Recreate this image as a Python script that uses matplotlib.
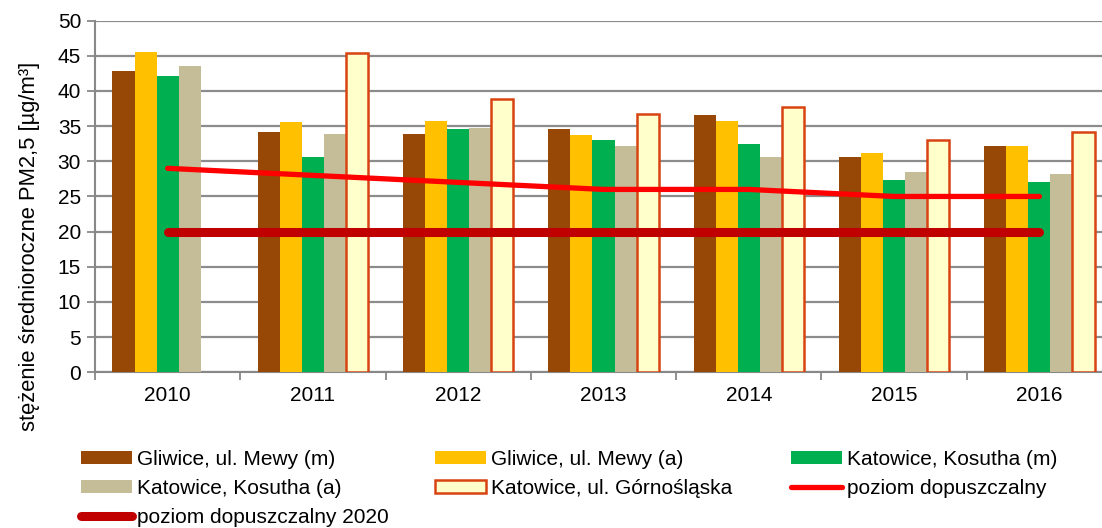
import matplotlib
matplotlib.use("Agg")
import matplotlib.pyplot as plt
import numpy as np

plt.rcParams['font.family'] = ['Liberation Sans', 'DejaVu Sans']

years = ['2010', '2011', '2012', '2013', '2014', '2015', '2016']
series_names = ['Gliwice, ul. Mewy (m)', 'Gliwice, ul. Mewy (a)', 'Katowice, Kosutha (m)',
                'Katowice, Kosutha (a)', 'Katowice, ul. Górnośląska']
gliwice_m = [42.9, 34.2, 33.9, 34.6, 36.6, 30.6, 32.2]
gliwice_a = [45.5, 35.6, 35.7, 33.8, 35.7, 31.2, 32.2]
katowice_km = [42.1, 30.6, 34.6, 33.0, 32.5, 27.3, 27.0]
katowice_ka = [43.5, 33.9, 34.8, 32.2, 30.6, 28.5, 28.2]
katowice_g = [np.nan, 45.4, 38.9, 36.7, 37.7, 33.1, 34.2]
poziom = [29, 28, 27, 26, 26, 25, 25]
poziom_2020 = [20, 20, 20, 20, 20, 20, 20]

fills = ['#974706', '#FFC000', '#00B050', '#C4BD97', '#FFFFCC']
edges = ['none', 'none', 'none', 'none', '#D84312']

fig = plt.figure(figsize=(11.02, 5.28), dpi=100)
ax = fig.add_axes([95/1102, 1-372.2/528, (1112-95)/1102, (372.2-20.7)/528])

x = np.arange(len(years))
w = 0.152
data = [gliwice_m, gliwice_a, katowice_km, katowice_ka, katowice_g]
handles = []
for k, vals in enumerate(data):
    lw = 1.8 if k == 4 else 0
    b = ax.bar(x + (k-2)*w, vals, w, color=fills[k], edgecolor=edges[k], linewidth=lw,
               label=series_names[k], zorder=3)
    handles.append(b)

l1, = ax.plot(x, poziom, color='#FF0000', lw=3.8, solid_capstyle='round', zorder=4,
              label='poziom dopuszczalny')
l2, = ax.plot(x, poziom_2020, color='#C00000', lw=6.5, solid_capstyle='round', zorder=4,
              label='poziom dopuszczalny 2020')

ax.set_xlim(-0.5, len(years)-0.5)
ax.set_ylim(0, 50)
ax.set_yticks(np.arange(0, 51, 5))
ax.set_xticks(np.arange(-0.5, len(years), 1))
ax.set_xticklabels([])
ax.set_xticks(x, minor=True)
ax.set_xticklabels(years, minor=True)
ax.tick_params(axis='x', which='minor', length=0, pad=10, labelsize=15)
ax.tick_params(axis='x', which='major', length=6, width=1.3, color='#888888')
ax.tick_params(axis='y', length=6, width=1.3, color='#888888', labelsize=15, pad=4)
ax.grid(axis='y', color='#8C8C8C', lw=1.6, zorder=0)
ax.set_axisbelow(True)
for s in ['top', 'right']:
    ax.spines[s].set_visible(False)
for s in ['left', 'bottom']:
    ax.spines[s].set_color('#888888')
    ax.spines[s].set_linewidth(1.5)

fig.text(30/1102, 1-246/528, 'stężenie średnioroczne PM2,5 [µg/m³]', rotation=90,
         ha='center', va='center', fontsize=15.8)

cols = [
    ([handles[0], handles[3], l2], 81),
    ([handles[1], handles[4]], 435),
    ([handles[2], l1], 791),
]
for hs, xpx in cols:
    leg = fig.legend(handles=hs, labels=[h.get_label() for h in hs], loc='upper left',
                     bbox_to_anchor=(xpx/1102, 1-450/528), frameon=False, fontsize=15,
                     borderpad=0, borderaxespad=0, handlelength=2.45, handleheight=0.6,
                     handletextpad=0.25, labelspacing=0.48)

fig.savefig('out.png', dpi=100)
